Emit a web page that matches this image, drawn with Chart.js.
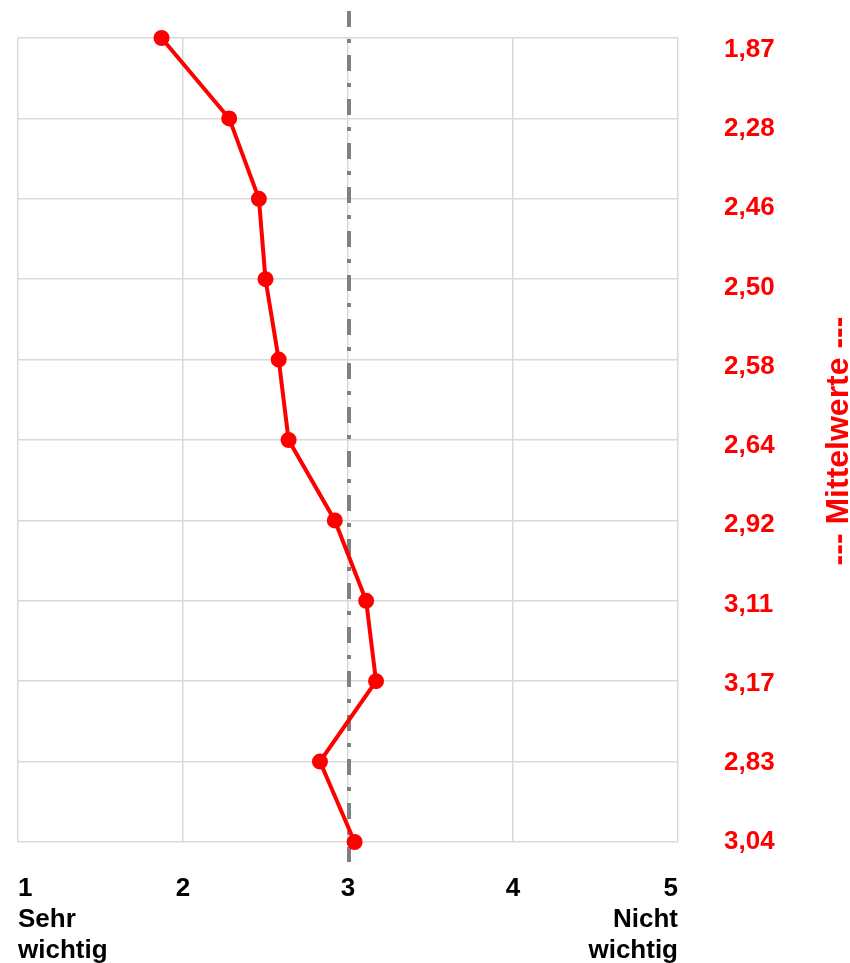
<!DOCTYPE html>
<html>
<head>
<meta charset="utf-8">
<script src="https://cdn.jsdelivr.net/npm/chart.js@4"></script>
<style>
  html, body { margin: 0; padding: 0; background: #fff; }
  #wrap { width: 850px; height: 963px; }
</style>
</head>
<body>
<div id="wrap"><canvas id="chart"></canvas></div>
<script>
// mean values per item, top to bottom
const means = [1.87, 2.28, 2.46, 2.50, 2.58, 2.64, 2.92, 3.11, 3.17, 2.83, 3.04];
const meanLabels = ['1,87', '2,28', '2,46', '2,50', '2,58', '2,64', '2,92', '3,11', '3,17', '2,83', '3,04'];
const xTickLabels = [['1', 'Sehr', 'wichtig'], '2', '3', '4', ['5', 'Nicht', 'wichtig']];
const refValue = 3;
const rightTitle = '--- Mittelwerte ---';

const font = 'Liberation Sans, Arial, sans-serif';

const points = means.map((v, i) => ({ x: v, y: i }));

// dash-dot line at the scale middle + rotated title on the right
const extras = {
  id: 'extras',
  beforeDatasetsDraw(chart) {
    const ctx = chart.ctx;
    const x = chart.scales.x.getPixelForValue(refValue) + 1;
    ctx.save();
    ctx.strokeStyle = '#808080';
    ctx.lineWidth = 4;
    ctx.setLineDash([16, 12, 4, 12]);
    ctx.beginPath();
    ctx.moveTo(x, 11);
    ctx.lineTo(x, 862);
    ctx.stroke();
    ctx.restore();
  },
  afterDraw(chart) {
    const ctx = chart.ctx;
    ctx.save();
    ctx.translate(839, 441);
    ctx.rotate(-Math.PI / 2);
    ctx.fillStyle = '#ff0000';
    ctx.font = 'bold 32px ' + font;
    ctx.textAlign = 'center';
    ctx.textBaseline = 'middle';
    ctx.fillText(rightTitle, 0, 0);
    ctx.restore();
  }
};

new Chart(document.getElementById('chart'), {
  type: 'line',
  data: {
    datasets: [{
      data: points,
      borderColor: '#ff0000',
      backgroundColor: '#ff0000',
      borderWidth: 4,
      pointRadius: 6,
      pointHoverRadius: 6,
      tension: 0,
      clip: false
    }]
  },
  options: {
    responsive: true,
    maintainAspectRatio: false,
    animation: false,
    layout: { padding: { left: 18, top: 38, right: 0, bottom: 0 } },
    plugins: { legend: { display: false }, tooltip: { enabled: false } },
    scales: {
      x: {
        type: 'linear',
        position: 'bottom',
        min: 1,
        max: 5,
        grid: { color: '#d9d9d9', lineWidth: 1.5, drawTicks: false },
        border: { display: false },
        ticks: {
          stepSize: 1,
          align: 'inner',
          maxRotation: 0,
          padding: 31,
          color: '#000',
          font: { family: font, size: 26, weight: 'bold', lineHeight: 1.2 },
          callback: (v) => xTickLabels[v - 1]
        },
        afterFit: (s) => { s.height = 121; s.paddingLeft = 0; s.paddingRight = 0; }
      },
      y: {
        type: 'linear',
        position: 'left',
        reverse: true,
        min: 0,
        max: means.length - 1,
        grid: { color: '#d9d9d9', lineWidth: 1.5, drawTicks: false },
        border: { display: false },
        ticks: { display: false, stepSize: 1 },
        afterFit: (s) => { s.width = 0; s.paddingTop = 0; s.paddingBottom = 0; }
      },
      y2: {
        type: 'linear',
        position: 'right',
        reverse: true,
        min: -0.15,
        max: means.length - 1,
        grid: { display: false, drawTicks: false },
        border: { display: false },
        afterBuildTicks: (s) => { s.ticks = meanLabels.map((_, i) => ({ value: i })); },
        ticks: {
          padding: 46,
          color: '#ff0000',
          font: { family: font, size: 26, weight: 'bold' },
          callback: (v) => meanLabels[v]
        },
        afterFit: (s) => { s.width = 172; s.paddingTop = 0; s.paddingBottom = 0; }
      }
    }
  },
  plugins: [extras]
});
</script>
</body>
</html>
